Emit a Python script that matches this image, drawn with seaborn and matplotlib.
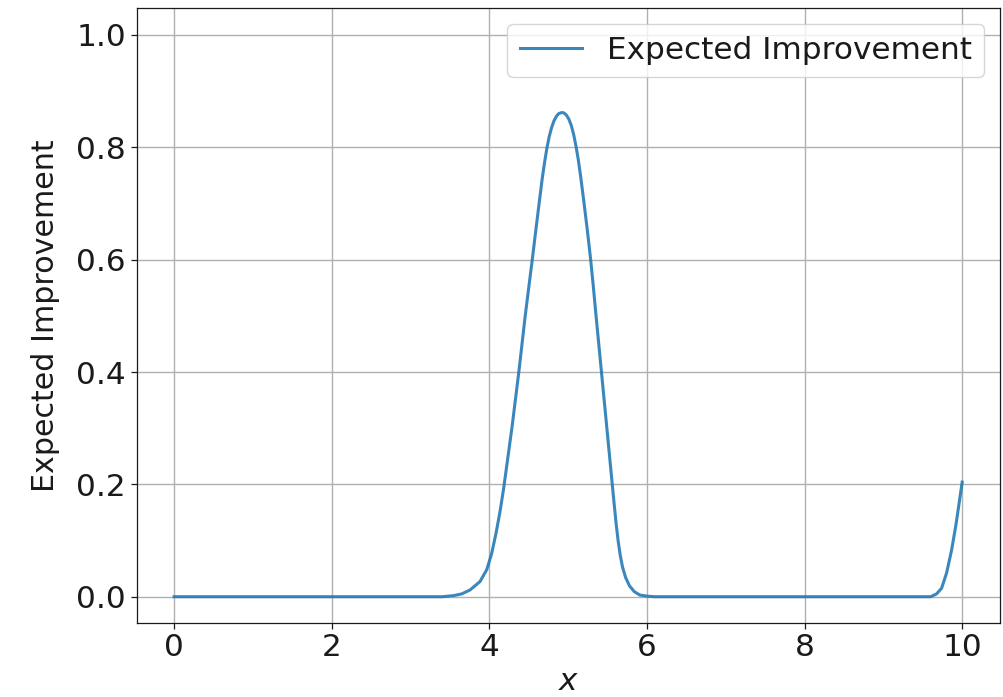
import matplotlib
matplotlib.use("Agg")
import matplotlib.pyplot as plt
import seaborn as sns
import pandas as pd

# Expected improvement of the acquisition function over the search interval
x_values = [0.0, 3.40, 3.55, 3.65, 3.755, 3.882, 3.967, 4.03, 4.085, 4.135,
            4.18, 4.22, 4.29, 4.377, 4.453, 4.50, 4.546, 4.588, 4.630, 4.672,
            4.70, 4.73, 4.76, 4.79, 4.82, 4.85, 4.88, 4.92, 4.95, 4.98,
            5.01, 5.04, 5.07, 5.10, 5.13, 5.16, 5.20, 5.245, 5.286, 5.32,
            5.353, 5.421, 5.489, 5.53, 5.56, 5.585, 5.61, 5.635, 5.66, 5.69,
            5.73, 5.78, 5.84, 5.91, 6.00, 6.10,
            9.60, 9.675, 9.739, 9.802, 9.866, 9.920, 9.963, 10.0]
ei_values = [0.0, 0.0, 0.002, 0.005, 0.012, 0.027, 0.048, 0.077, 0.113, 0.151,
             0.191, 0.232, 0.304, 0.403, 0.497, 0.550, 0.601, 0.650, 0.698, 0.745,
             0.772, 0.798, 0.819, 0.835, 0.847, 0.855, 0.860, 0.862, 0.861, 0.857,
             0.850, 0.839, 0.823, 0.802, 0.777, 0.747, 0.703, 0.651, 0.600, 0.552,
             0.502, 0.403, 0.304, 0.244, 0.200, 0.164, 0.129, 0.099, 0.075, 0.053,
             0.034, 0.019, 0.009, 0.003, 0.001, 0.0,
             0.0, 0.005, 0.015, 0.042, 0.083, 0.127, 0.168, 0.204]

x_ticks = [0, 2, 4, 6, 8, 10]
y_ticks = [0.0, 0.2, 0.4, 0.6, 0.8, 1.0]

df = pd.DataFrame({"x": x_values, "ei": ei_values})

plt.rcParams["font.family"] = ["DejaVu Sans"]
fig, ax = plt.subplots(figsize=(10.04, 6.97), dpi=100)
fig.subplots_adjust(left=0.1365, right=0.996, bottom=0.106, top=0.9885)

sns.lineplot(data=df, x="x", y="ei", ax=ax, color="#1f77b4", alpha=0.88,
             linewidth=2.2, label="Expected Improvement", sort=False)

ax.set_xlim(-0.47, 10.48)
ax.set_ylim(-0.047, 1.048)
ax.set_xticks(x_ticks)
ax.set_yticks(y_ticks)
ax.set_xticklabels([str(t) for t in x_ticks])
ax.set_yticklabels([f"{t:.1f}" for t in y_ticks])
ax.tick_params(labelsize=22.4, length=4.5, width=0.9, colors="#1a1a1a")
ax.tick_params(axis="x", pad=2.5)
ax.set_xlabel("$x$", fontsize=22.4, color="#1a1a1a", labelpad=4)
ax.set_ylabel("Expected Improvement", fontsize=21.7, color="#1a1a1a", labelpad=12)
ax.grid(True, color="#b0b0b0", linewidth=1.0)
for s in ax.spines.values():
    s.set_color("#1a1a1a")
    s.set_linewidth(0.9)

leg = ax.legend(loc="upper right", fontsize=22.4, framealpha=0.8)
for t in leg.get_texts():
    t.set_color("#1a1a1a")

fig.savefig("out.png", dpi=100)
